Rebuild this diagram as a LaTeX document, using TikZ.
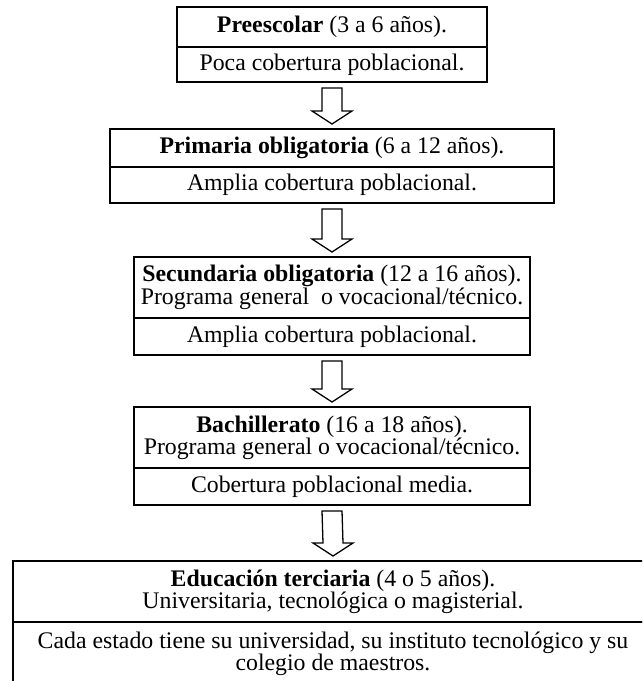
\documentclass[tikz,border=0pt]{standalone}
\usepackage{fontspec}
\setmainfont{Liberation Serif}
\usetikzlibrary{positioning}
\usetikzlibrary{calc}

\tikzset{
  caja/.style={draw, line width=1.6pt, outer sep=0pt, inner sep=0pt,
    align=center, font=\fontsize{20.3}{18.5}\selectfont},
  flecha/.style={draw, line width=1.1pt, fill=white, line join=miter}
}

% hollow down arrow between two boxes
\newcommand{\flecha}[2]{%
  \draw[flecha] ($(#1.south)+(-10,6)$) -- ($(#2.north)+(-10,-18)$)
    -- ($(#2.north)+(-20,-18)$) -- ($(#2.north)+(0,-5)$)
    -- ($(#2.north)+(20,-18)$) -- ($(#2.north)+(10,-18)$)
    -- ($(#1.south)+(10,6)$) -- cycle;}

\begin{document}
\begin{tikzpicture}[x=0.03cm, y=-0.03cm]
    \useasboundingbox (0,0) rectangle (642,681);
    \clip (0,0) rectangle (642,681);

    \node[caja, minimum width=9.3cm, minimum height=1.2cm, anchor=north] (pre) at (332,7)
      {\textbf{Preescolar} (3 a 6 años).};
    \node[caja, minimum width=9.3cm, minimum height=1.05cm, below=0pt of pre] (preinfo)
      {Poca cobertura poblacional.};

    \node[caja, minimum width=13.3cm, minimum height=1.14cm, anchor=north] (pri) at (332,129)
      {\textbf{Primaria obligatoria} (6 a 12 años).};
    \node[caja, minimum width=13.3cm, minimum height=1.08cm, below=0pt of pri] (priinfo)
      {Amplia cobertura poblacional.};

    \node[caja, minimum width=11.9cm, minimum height=1.83cm, anchor=north] (sec) at (332,257)
      {\textbf{Secundaria obligatoria} (12 a 16 años).\\ Programa general\ \ o vocacional/técnico.};
    \node[caja, minimum width=11.9cm, minimum height=1.11cm, below=0pt of sec] (secinfo)
      {Amplia cobertura poblacional.};

    \node[caja, minimum width=11.9cm, minimum height=1.83cm, anchor=north] (bach) at (332,407)
      {\textbf{Bachillerato} (16 a 18 años).\\ Programa general o vocacional/técnico.};
    \node[caja, minimum width=11.9cm, minimum height=1.11cm, below=0pt of bach] (bachinfo)
      {Cobertura poblacional media.};

    \node[caja, minimum width=19.2cm, minimum height=1.83cm, anchor=north] (ter) at (333,561)
      {\textbf{Educación terciaria} (4 o 5 años).\\ Universitaria, tecnológica o magisterial.};
    \node[caja, minimum width=19.2cm, minimum height=1.92cm, below=0pt of ter] (terinfo)
      {Cada estado tiene su universidad, su instituto tecnológico y su\\ colegio de maestros.};

    \flecha{preinfo}{pri}
    \flecha{priinfo}{sec}
    \flecha{secinfo}{bach}
    \flecha{bachinfo}{ter}
\end{tikzpicture}
\end{document}
